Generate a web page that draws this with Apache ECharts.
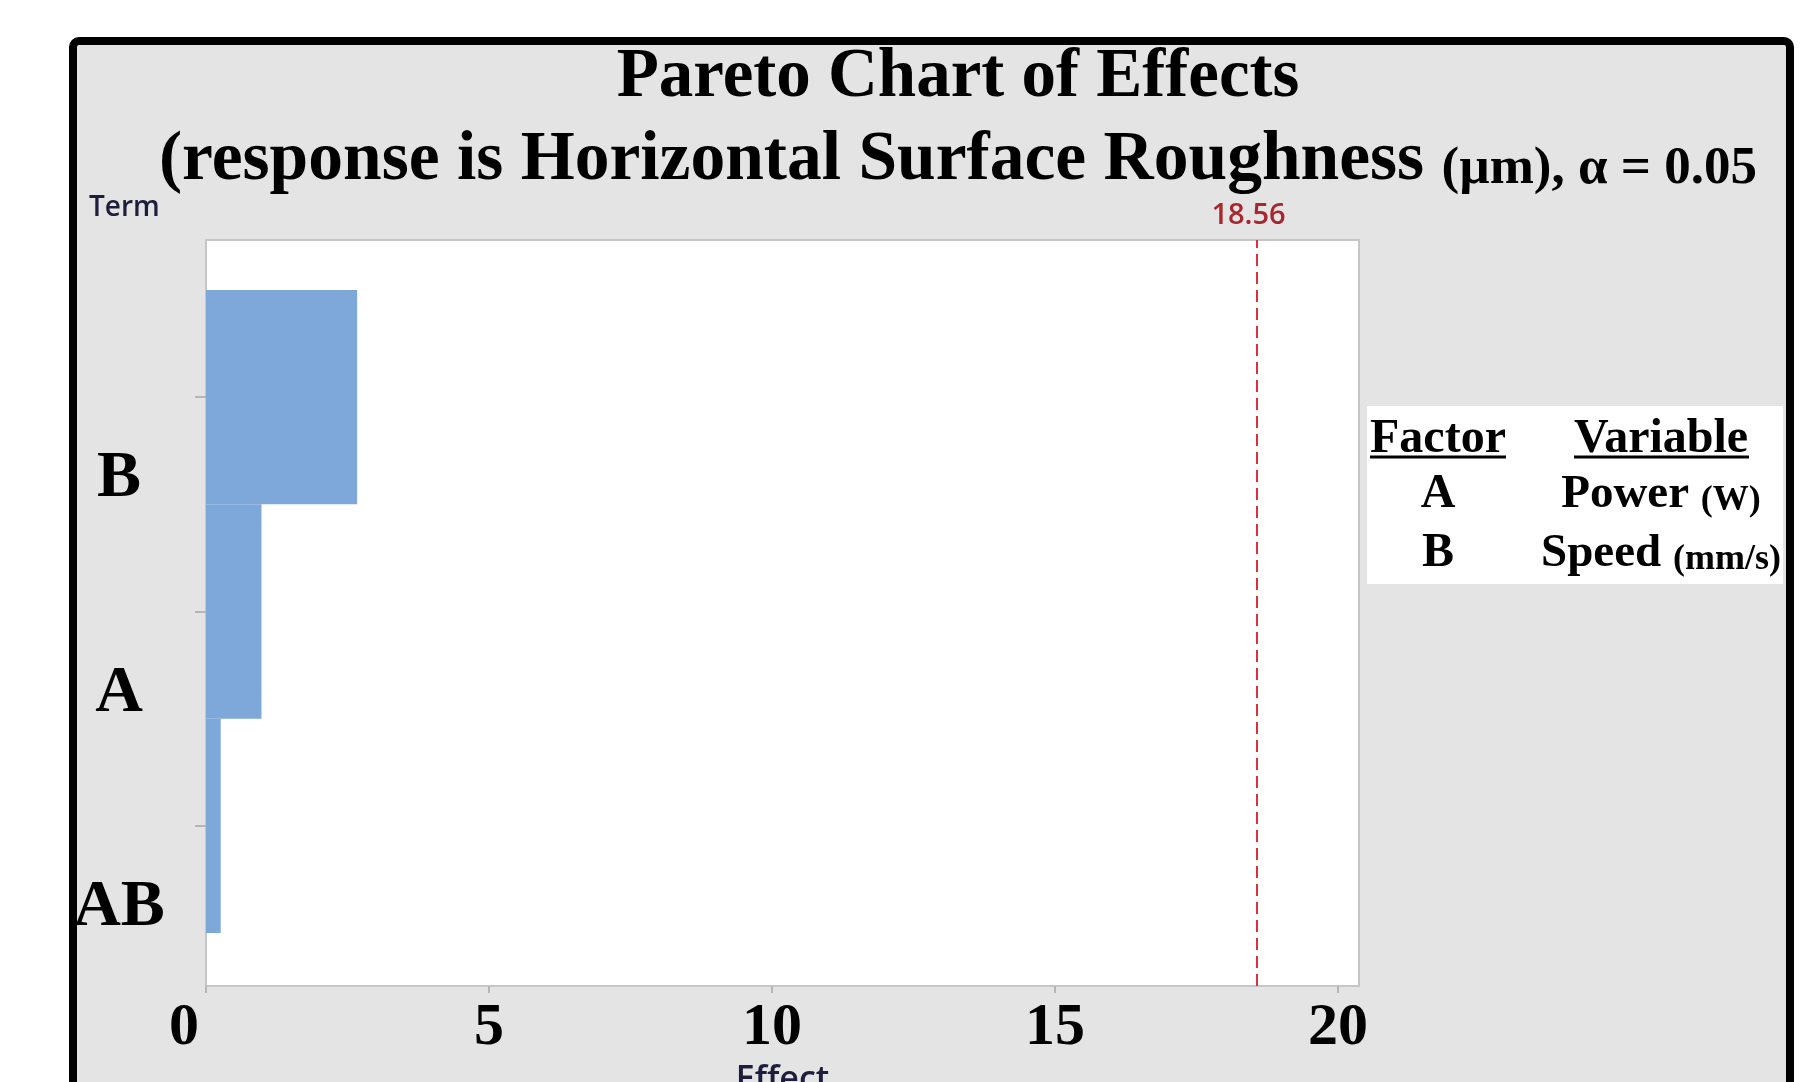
<!DOCTYPE html>
<html>
<head>
<meta charset="utf-8">
<script src="https://cdn.jsdelivr.net/npm/echarts@6/dist/echarts.min.js"></script>
<style>
html,body{margin:0;padding:0;background:#fff;}
#chart{width:1806px;height:1082px;}
</style>
</head>
<body>
<div id="chart"></div>
<script>
// ---- data ----
const terms = ['B', 'A', 'AB'];
const effects = [2.67, 0.98, 0.26];
const criticalValue = 18.56;
const xTicks = [0, 5, 10, 15, 20];
const xMax = 20.37;
const factors = ['A', 'B'];
const variables = ['Power', 'Speed'];
const units = ['(W)', '(mm/s)'];
const titleLine1 = 'Pareto Chart of Effects';
const titleLine2Main = '(response is Horizontal Surface Roughness ';
const titleLine2Small = '(µm), α = 0.05';

const SERIF = '"Liberation Serif", "Times New Roman", serif';
const SANS = '"Open Sans", "Noto Sans", sans-serif';

const chart = echarts.init(document.getElementById('chart'), null, {renderer: 'canvas'});

const legendRows = factors.map((f, i) => {
  const baseY = [495, 554][i];
  return [
    {type: 'text', z: 10, style: {text: f, x: 1438, y: baseY, align: 'center', verticalAlign: 'middle',
      font: 'bold 48px ' + SERIF, fill: '#000'}},
    {type: 'text', z: 10, style: {text: '{b|' + variables[i] + ' }{s|' + units[i] + '}', x: 1661, y: baseY,
      align: 'center', verticalAlign: 'middle', fill: '#000',
      rich: {
        b: {fontFamily: SERIF, fontWeight: 'bold', fontSize: 47, lineHeight: 47, verticalAlign: 'bottom', fill: '#000'},
        s: {fontFamily: SERIF, fontWeight: 'bold', fontSize: 36, lineHeight: 39, verticalAlign: 'bottom', fill: '#000'}
      }}}
  ];
}).flat();

const option = {
  animation: false,
  backgroundColor: '#ffffff',
  graphic: [
    {type: 'rect', z: -10, silent: true,
      shape: {x: 73, y: 41, width: 1717, height: 1120, r: 6},
      style: {fill: '#e4e4e4', stroke: '#000', lineWidth: 8}},
    {type: 'text', z: 10, style: {text: titleLine1, x: 958, y: 78, align: 'center', verticalAlign: 'middle',
      font: 'bold 69px ' + SERIF, fill: '#000'}},
    {type: 'text', z: 10, style: {text: '{b|' + titleLine2Main + '}{s|' + titleLine2Small + '}', x: 958, y: 161,
      align: 'center', verticalAlign: 'middle',
      rich: {
        b: {fontFamily: SERIF, fontWeight: 'bold', fontSize: 69.5, lineHeight: 70, verticalAlign: 'bottom', fill: '#000'},
        s: {fontFamily: SERIF, fontWeight: 'bold', fontSize: 53, lineHeight: 57, verticalAlign: 'bottom', fill: '#000'}
      }}},
    {type: 'text', z: 10, style: {text: 'Term', x: 89, y: 208, align: 'left', verticalAlign: 'middle',
      font: '600 28px ' + SANS, fill: '#1e1e3c'}},
    // factor/variable table
    {type: 'rect', z: 5, shape: {x: 1367, y: 406, width: 416, height: 178}, style: {fill: '#ffffff'}},
    {type: 'text', z: 10, style: {text: 'Factor', x: 1438, y: 440, align: 'center', verticalAlign: 'middle',
      font: 'bold 48px ' + SERIF, fill: '#000'}},
    {type: 'text', z: 10, style: {text: 'Variable', x: 1661, y: 440, align: 'center', verticalAlign: 'middle',
      font: 'bold 48px ' + SERIF, fill: '#000'}},
    {type: 'line', z: 10, shape: {x1: 1370, y1: 457, x2: 1506, y2: 457}, style: {stroke: '#000', lineWidth: 3}},
    {type: 'line', z: 10, shape: {x1: 1574, y1: 457, x2: 1749, y2: 457}, style: {stroke: '#000', lineWidth: 3}}
  ].concat(legendRows),
  grid: [
    {left: 206, right: 447, top: 240, bottom: 96, show: true, backgroundColor: '#ffffff',
      borderColor: '#c6c6c6', borderWidth: 2, z: 0, containLabel: false, outerBoundsMode: 'none'},
    {left: 206, right: 447, top: 290, bottom: 149, show: false, containLabel: false, outerBoundsMode: 'none'}
  ],
  xAxis: [
    {type: 'value', gridIndex: 0, min: 0, max: xMax, interval: 5,
      splitLine: {show: false},
      axisLine: {show: false},
      axisTick: {show: true, length: 7, lineStyle: {color: '#b5b5b5', width: 2}, customValues: xTicks},
      axisLabel: {show: true, margin: 12, customValues: xTicks,
        fontFamily: SERIF, fontWeight: 'bold', fontSize: 60, color: '#000',
        formatter: function (v) { return v === 0 ? '{z|0}' : String(v); },
        rich: {z: {fontFamily: SERIF, fontWeight: 'bold', fontSize: 60, color: '#000', padding: [0, 44, 0, 0]}}
      },
      name: 'Effect', nameLocation: 'middle', nameGap: 70,
      nameTextStyle: {fontFamily: SANS, fontSize: 34, fontWeight: 600, color: '#1e1e3c', verticalAlign: 'top'}
    },
    {type: 'value', gridIndex: 1, min: 0, max: xMax, show: false}
  ],
  yAxis: [
    {type: 'value', gridIndex: 0, min: 0, max: 1, show: false},
    {type: 'category', gridIndex: 1, data: terms, inverse: true,
      axisLine: {show: false},
      axisTick: {show: true, interval: 0, alignWithLabel: true, length: 11, lineStyle: {color: '#b5b5b5', width: 2}},
      axisLabel: {show: true, interval: 0, hideOverlap: false, margin: 87, align: 'center', verticalAlign: 'middle',
        lineHeight: 164,
        formatter: function (v) { return '\n' + v; },
        fontFamily: SERIF, fontWeight: 'bold', fontSize: 66, color: '#000'},
      splitLine: {show: false}
    }
  ],
  series: [
    {type: 'bar', xAxisIndex: 1, yAxisIndex: 1, data: effects, barWidth: '100%', barCategoryGap: 0,
      itemStyle: {color: '#7da8d9'}, z: 3},
    {type: 'line', xAxisIndex: 0, yAxisIndex: 0, data: [], z: 4,
      markLine: {silent: true, symbol: 'none',
        lineStyle: {color: '#d8323c', type: [12, 6], width: 2},
        label: {show: true, position: 'end', distance: 10, formatter: String(criticalValue),
          padding: [0, 16, 0, 0],
          color: '#a8262e', fontFamily: SANS, fontSize: 29, fontWeight: 600},
        data: [{xAxis: criticalValue}]
      }
    }
  ]
};
chart.setOption(option);
</script>
</body>
</html>
